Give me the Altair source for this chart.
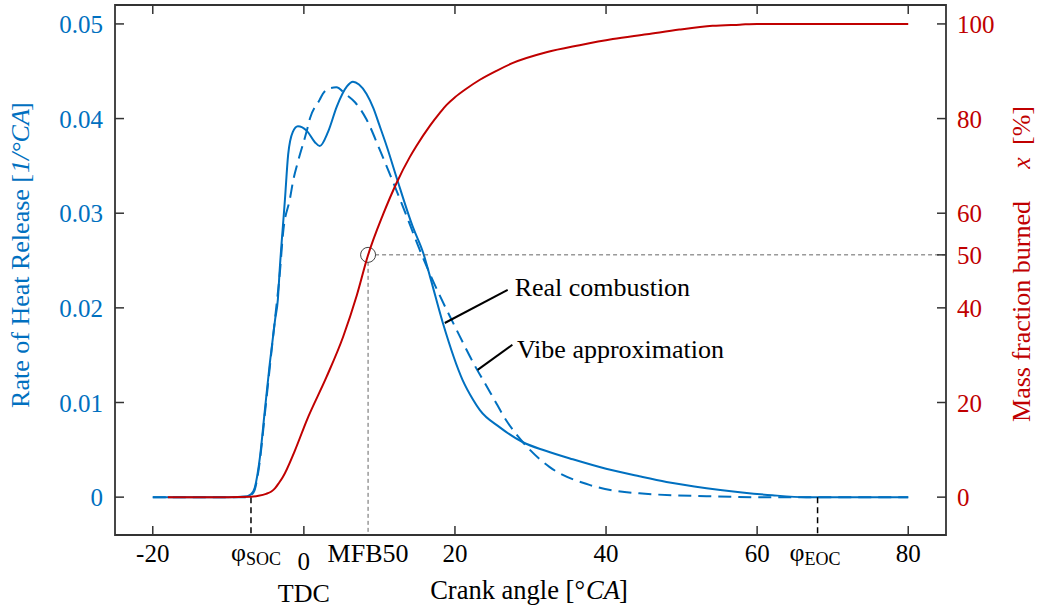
import altair as alt
import pandas as pd

# ---------------- data ----------------
real_angle = [-20, -10, -7.5, -7.0, -6.5, -5.8, -5.2, -4.5, -3.8, -3.44, -3.2, -2.5, -2.08, -1.46, -0.79, 0.4, 1.46,
              2.1, 3.2, 4.37, 5.7, 6.5, 7.3, 8.3, 9.2, 10.0, 11.0, 12.3, 14.4, 15.8, 16.7, 18.4, 21.0, 22.4, 23.3,
              25.9, 29.0, 32.0, 35.6, 40.0, 44.4, 48.0, 53.3, 58.0, 62.0, 66.5, 80]
real_rhr = [0, 0, 0.0001, 0.0003, 0.001, 0.0043, 0.0089, 0.0142, 0.0188, 0.0209, 0.024, 0.0315, 0.0362, 0.0386,
            0.0392, 0.0387, 0.0375, 0.0371, 0.0386, 0.0413, 0.0434, 0.0439, 0.0436, 0.0426, 0.0411, 0.0393, 0.0370,
            0.0337, 0.0286, 0.0258, 0.0233, 0.0184, 0.0124, 0.0103, 0.0092, 0.0074, 0.0058, 0.0049, 0.0040, 0.0030,
            0.0022, 0.0016, 0.00095, 0.0005, 0.0002, 0.0, 0.0]

vibe_angle = [-20, -10, -7.5, -7.0, -6.5, -5.8, -5.2, -4.5, -3.8, -3.2, -2.74, -1.85, -1.4, -0.8, 0.35, 0.8, 2.1, 2.5,
              3.4, 4.3, 5.5, 6.8, 8.3, 10.0, 11.8, 13.6, 15.3, 16.9, 20.2, 22.9, 23.7, 25.0, 26.8, 29.0, 32.5, 37.8,
              44.4, 53.3, 60, 80]
vibe_rhr = [0, 0, 0, 0.0002, 0.0008, 0.004, 0.0085, 0.0138, 0.019, 0.0235, 0.028, 0.0315, 0.0335, 0.0354, 0.0386,
            0.040, 0.042, 0.0426, 0.0432, 0.0433, 0.0426, 0.0417, 0.0399, 0.0368, 0.0333, 0.0297, 0.0262, 0.0232,
            0.0177, 0.0135, 0.0124, 0.0106, 0.0081, 0.0058, 0.0032, 0.0013, 0.0004, 0.0001, 0, 0]

mfb_angle = [-18, -10, -7, -6, -5, -4.3, -3.8, -3.3, -2.8, -1.2, 0.4, 3.0, 5.2, 7.0, 8.47, 10.5, 12.3, 14.0, 14.9,
             16.7, 18.0, 18.9, 20.0, 21.5, 23.3, 25.5, 27.6, 32.1, 36.5, 40.9, 45.4, 49.7, 54.1, 57.7, 60, 80]
mfb_pct = [0, 0, 0.1, 0.3, 0.7, 1.2, 1.9, 3.0, 4.2, 9.8, 16.3, 25.4, 33.9, 42.6, 51.0, 59.8, 66.5, 71.8, 74.2,
           78.5, 81.2, 82.9, 84.5, 86.3, 88.2, 90.1, 91.7, 94.0, 95.5, 96.8, 97.8, 98.8, 99.6, 99.85, 100, 100]

x_tick_values = [-20, 0, 20, 40, 60, 80]
x_axis_labels = ["-20", "20", "40", "60", "80"]
x_axis_label_pos = [-20, 20, 40, 60, 80]
left_tick_values = [0, 0.01, 0.02, 0.03, 0.04, 0.05]
left_tick_text = ["0", "0.01", "0.02", "0.03", "0.04", "0.05"]
right_tick_pos = [0, 20, 40, 51.2, 60, 80, 100]
right_tick_text = ["0", "20", "40", "50", "60", "80", "100"]

soc_angle = -7.0
eoc_angle = 68.0
mfb50_angle = 8.5
mfb50_level = 51.2

leader_x1 = [18.65, 23.0]
leader_y1 = [0.0184, 0.01345]
leader_x2 = [26.98, 27.6]
leader_y2 = [0.0219, 0.0161]
annot_text = ["Real combustion", "Vibe approximation"]
annot_x = [27.9, 28.2]
annot_y = [0.02128, 0.0147]

# ---------------- styling ----------------
BLUE = "#0070C0"
RED = "#C00000"
FONT = "Liberation Serif"
W, H = 831, 530
FS = 25

xs = alt.Scale(domain=[-25, 85], nice=False, zero=False)
yl = alt.Scale(domain=[-0.004, 0.052], nice=False, zero=False)
yr = alt.Scale(domain=[-8, 104], nice=False, zero=False)

real_df = pd.DataFrame({"a": real_angle, "v": real_rhr})
vibe_df = pd.DataFrame({"a": vibe_angle, "v": vibe_rhr})
mfb_df = pd.DataFrame({"a": mfb_angle, "p": mfb_pct})

X = lambda f: alt.X(f, scale=xs, axis=None)
YL = lambda f: alt.Y(f, scale=yl, axis=None)
YR = lambda f: alt.Y(f, scale=yr, axis=None)

real_line = alt.Chart(real_df).mark_line(color=BLUE, strokeWidth=2, interpolate="monotone").encode(
    x=X("a:Q"), y=YL("v:Q"))
vibe_line = alt.Chart(vibe_df).mark_line(color=BLUE, strokeWidth=2, strokeDash=[13, 7],
                                         interpolate="monotone").encode(x=X("a:Q"), y=YL("v:Q"))

lt_df = pd.DataFrame({"v": left_tick_values, "t": left_tick_text})
left_ticks = alt.Chart(lt_df).mark_rule(color="#333", strokeWidth=1.5).encode(
    y=YL("v:Q"), x=alt.value(0), x2=alt.value(9))
left_labels = alt.Chart(lt_df).mark_text(align="right", baseline="middle", font=FONT, fontSize=FS, color=BLUE,
                                         dy=1).encode(y=YL("v:Q"), x=alt.value(-12), text="t:N")

xt_df = pd.DataFrame({"a": x_tick_values})
bottom_ticks = alt.Chart(xt_df).mark_rule(color="#333", strokeWidth=1.5).encode(
    x=X("a:Q"), y=alt.value(H), y2=alt.value(H - 9))
top_ticks = alt.Chart(xt_df).mark_rule(color="#333", strokeWidth=1.5).encode(
    x=X("a:Q"), y=alt.value(0), y2=alt.value(9))
xl_df = pd.DataFrame({"a": x_axis_label_pos, "t": x_axis_labels})
bottom_labels = alt.Chart(xl_df).mark_text(align="center", baseline="alphabetic", font=FONT, fontSize=FS,
                                           color="black").encode(x=X("a:Q"), y=alt.value(557), text="t:N")

phase_df = pd.DataFrame({"a": [soc_angle, eoc_angle], "z": [0, 0]})
phase_rules = alt.Chart(phase_df).mark_rule(color="black", strokeWidth=1.5, strokeDash=[6, 4]).encode(
    x=X("a:Q"), y=YL("z:Q"), y2=alt.value(H))

lead_df = pd.DataFrame({"x1": leader_x1, "y1": leader_y1, "x2": leader_x2, "y2": leader_y2})
leaders = alt.Chart(lead_df).mark_rule(color="black", strokeWidth=2).encode(
    x=X("x1:Q"), y=YL("y1:Q"), x2="x2:Q", y2="y2:Q")

ann_df = pd.DataFrame({"t": annot_text, "x": annot_x, "y": annot_y})
annots = alt.Chart(ann_df).mark_text(align="left", baseline="alphabetic", font=FONT, fontSize=26,
                                     color="black").encode(x=X("x:Q"), y=YL("y:Q"), text="t:N")


def xlabel(txt, a, ypx, dx=0, align="center", size=FS):
    d = pd.DataFrame({"t": [txt], "a": [a]})
    return alt.Chart(d).mark_text(align=align, baseline="alphabetic", font=FONT, fontSize=size, color="black",
                                  dx=dx).encode(x=X("a:Q"), y=alt.value(ypx), text="t:N")


def ptext(txt, xpx, ypx, align="center", color="black", italic=False, angle=0, size=26, baseline="alphabetic"):
    d = pd.DataFrame({"t": [txt]})
    kw = dict(align=align, baseline=baseline, font=FONT, fontSize=size, color=color, angle=angle)
    if italic:
        kw["fontStyle"] = "italic"
    return alt.Chart(d).mark_text(**kw).encode(x=alt.value(xpx), y=alt.value(ypx), text="t:N")


bottom_texts = [
    xlabel("0", 0, 565),
    xlabel("TDC", 0, 597, size=26),
    xlabel("MFB50", mfb50_angle, 557, size=26),
    xlabel("φ", soc_angle, 556, dx=-5, align="right", size=26),
    xlabel("SOC", soc_angle, 560, dx=-5, align="left", size=18),
    xlabel("φ", eoc_angle, 556, dx=-13, align="right", size=26),
    xlabel("EOC", eoc_angle, 560, dx=-13, align="left", size=18),
]

titles = [
    # x title
    ptext("Crank angle [°", 470, 594, align="right", size=26.5),
    ptext("CA", 471, 594, align="left", italic=True, size=26.5),
    ptext("]", 504, 594, align="left", size=26.5),
    # left title
    ptext("Rate of Heat Release [", -94, 169, align="right", color=BLUE, angle=270, baseline="middle"),
    ptext("1/°CA", -94, 168, align="left", color=BLUE, angle=270, baseline="middle", italic=True),
    ptext("]", -94, 106, align="left", color=BLUE, angle=270, baseline="middle"),
    # right title
    ptext("Mass fraction burned", 907, 196, align="right", color=RED, angle=270, baseline="middle"),
    ptext("x", 907, 158, align="center", color=RED, angle=270, baseline="middle", italic=True),
    ptext("[%]", 907, 140, align="left", color=RED, angle=270, baseline="middle"),
]

left_group = alt.layer(real_line, vibe_line, left_ticks, left_labels, bottom_ticks, top_ticks, bottom_labels,
                       phase_rules, leaders, annots, *bottom_texts, *titles)

# right-hand (mass fraction burned) group
red_line = alt.Chart(mfb_df).mark_line(color=RED, strokeWidth=2, interpolate="monotone").encode(
    x=X("a:Q"), y=YR("p:Q"))
rt_df = pd.DataFrame({"v": right_tick_pos, "t": right_tick_text})
right_ticks = alt.Chart(rt_df).mark_rule(color="#333", strokeWidth=1.5).encode(
    y=YR("v:Q"), x=alt.value(W), x2=alt.value(W - 9))
right_labels = alt.Chart(rt_df).mark_text(align="left", baseline="middle", font=FONT, fontSize=FS, color=RED,
                                          dy=1).encode(y=YR("v:Q"), x=alt.value(W + 11), text="t:N")
m_df = pd.DataFrame({"a": [mfb50_angle], "p": [mfb50_level]})
m_h = alt.Chart(m_df).mark_rule(color="#666", strokeWidth=1, strokeDash=[4, 3]).encode(
    x=X("a:Q"), x2=alt.value(W), y=YR("p:Q"))
m_v = alt.Chart(m_df).mark_rule(color="#666", strokeWidth=1, strokeDash=[4, 3]).encode(
    x=X("a:Q"), y=YR("p:Q"), y2=alt.value(H))
m_c = alt.Chart(m_df).mark_point(shape="circle", size=225, filled=True, fill="white", stroke="#444",
                                 strokeWidth=1, opacity=1).encode(x=X("a:Q"), y=YR("p:Q"))
right_group = alt.layer(m_h, m_v, m_c, red_line, right_ticks, right_labels)

chart = alt.layer(left_group, right_group).resolve_scale(y="independent").properties(
    width=W, height=H, autosize=alt.AutoSizeParams(type="none"),
    padding={"left": 115, "top": 5, "right": 91, "bottom": 75}, background="white",
).configure_view(stroke="#333", strokeWidth=1.8)

chart.save("out.html", embed_options={"renderer": "svg", "actions": False})
